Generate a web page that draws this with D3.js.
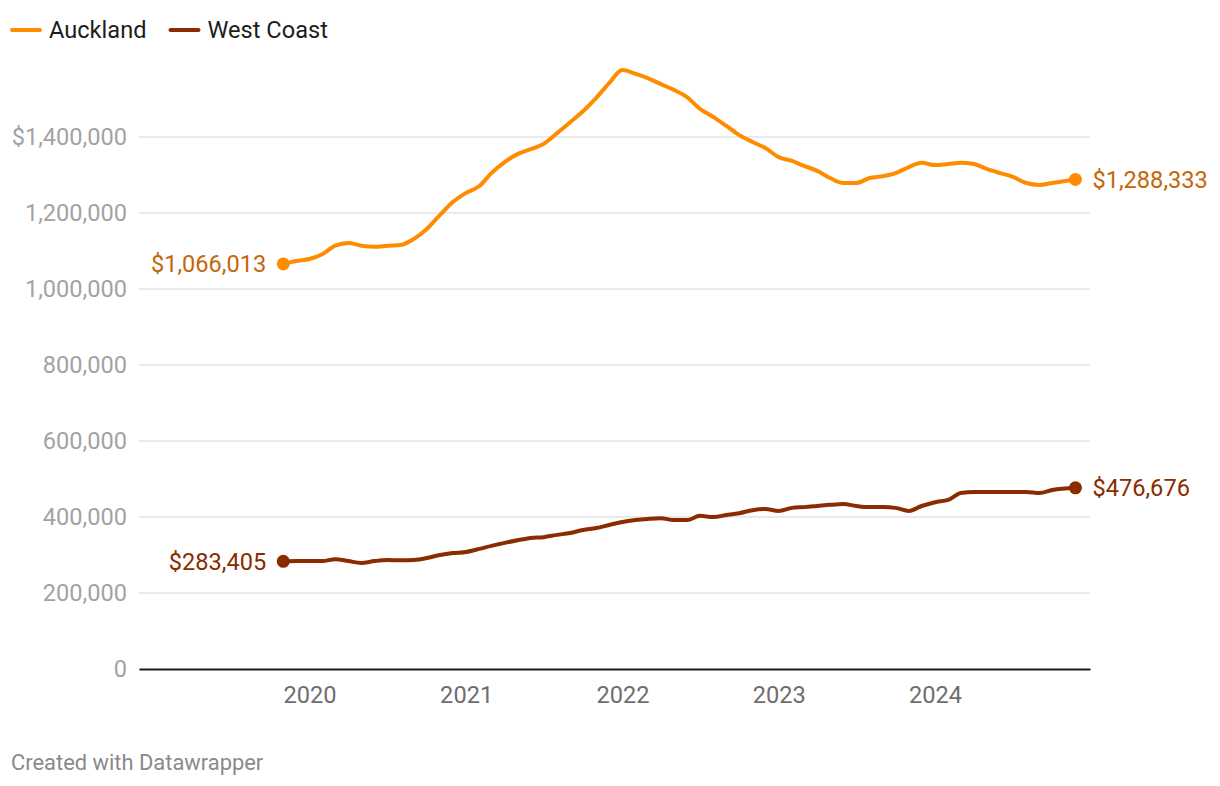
<!DOCTYPE html>
<html><head><meta charset="utf-8">
<script src="https://cdn.jsdelivr.net/npm/d3@7"></script>
<style>
html,body{margin:0;padding:0;background:#fff;}
svg text{font-family:Roboto,"Noto Sans",sans-serif;}
</style></head>
<body><svg id="c" width="1220" height="786"></svg>
<script>
const months = ["2019-11-01","2019-12-01","2020-01-01","2020-02-01","2020-03-01","2020-04-01","2020-05-01","2020-06-01","2020-07-01","2020-08-01","2020-09-01","2020-10-01","2020-11-01","2020-12-01","2021-01-01","2021-02-01","2021-03-01","2021-04-01","2021-05-01","2021-06-01","2021-07-01","2021-08-01","2021-09-01","2021-10-01","2021-11-01","2021-12-01","2022-01-01","2022-02-01","2022-03-01","2022-04-01","2022-05-01","2022-06-01","2022-07-01","2022-08-01","2022-09-01","2022-10-01","2022-11-01","2022-12-01","2023-01-01","2023-02-01","2023-03-01","2023-04-01","2023-05-01","2023-06-01","2023-07-01","2023-08-01","2023-09-01","2023-10-01","2023-11-01","2023-12-01","2024-01-01","2024-02-01","2024-03-01","2024-04-01","2024-05-01","2024-06-01","2024-07-01","2024-08-01","2024-09-01","2024-10-01","2024-11-24"];
const auckland = [1066013,1073700,1079000,1092000,1114000,1121000,1114000,1111000,1114000,1116000,1132000,1158000,1195000,1229000,1253000,1271000,1305000,1334000,1355000,1368000,1382000,1410000,1439000,1468000,1503000,1542000,1576000,1566000,1555000,1539000,1524000,1505000,1474000,1453000,1429000,1405000,1387000,1371000,1347000,1337000,1324000,1311000,1292000,1279000,1279000,1292000,1297000,1305000,1321000,1332000,1326000,1329000,1332000,1329000,1316000,1305000,1295000,1279000,1274000,1279000,1288333];
const westCoast = [283405,284200,284500,284000,289000,284000,279000,284000,286800,286000,287000,292000,300000,305000,308000,316000,324000,332000,339000,345000,347000,353000,358000,366000,371000,379000,387000,392000,395000,397000,392000,392000,403000,400000,405000,410000,418000,421000,416000,424000,426000,429000,432000,434000,429000,426000,426000,424000,416000,429000,439000,445000,463000,466000,466000,466000,466000,466000,463000,471000,476676];
const seriesNames = ["Auckland","West Coast"];
const yTicks = [0,200000,400000,600000,800000,1000000,1200000,1400000];
const xTickYears = ["2020","2021","2022","2023","2024"];

const lineColors = ["#ff8c00","#8a2b00"];
const labelColors = ["#c4660a","#8a2b00"];
const FS = 23.6;

const svg = d3.select("#c");
const parse = d3.timeParse("%Y-%m-%d");
const dates = months.map(parse);
const x = d3.scaleTime().domain([parse("2018-11-29"), parse("2024-12-28")]).range([139,1090]);
const y = d3.scaleLinear().domain([0,1400000]).range([669,137]);

// gridlines
svg.append("g").selectAll("line").data(yTicks.filter(d=>d>0)).join("line")
  .attr("x1",139).attr("x2",1090).attr("y1",d=>y(d)).attr("y2",d=>y(d))
  .attr("stroke","#e3e3e3").attr("stroke-width",1.5);

// y labels
const fmt = d3.format(",");
svg.append("g").selectAll("text").data(yTicks).join("text")
  .attr("x",127).attr("y",d=>y(d)).attr("dy","0.35em").attr("text-anchor","end")
  .attr("font-size",FS).attr("fill","#a3a3a3")
  .text((d,i)=> i===yTicks.length-1 ? "$"+fmt(d) : fmt(d));

// x axis
const xAxis = d3.axisBottom(x).tickValues(xTickYears.map(s=>parse(s+"-01-01"))).tickSize(0).tickFormat(d3.timeFormat("%Y"));
const gx = svg.append("g").attr("transform","translate(0,669)").call(xAxis);
gx.select(".domain").attr("stroke","#1a1a1a").attr("stroke-width",2);
gx.selectAll("text").attr("font-size",FS).attr("fill","#6e6e6e").attr("dy","0").attr("y",34).style("font-family","Roboto");

// lines
const all = [auckland, westCoast];
const line = d3.line().x((d,i)=>x(dates[i])).y(d=>y(d)).curve(d3.curveMonotoneX);
all.forEach((vals,k)=>{
  svg.append("path").attr("d",line(vals)).attr("fill","none")
    .attr("stroke",lineColors[k]).attr("stroke-width",4).attr("stroke-linejoin","round").attr("stroke-linecap","round");
  const n = vals.length-1;
  [0,n].forEach(j=>{
    svg.append("circle").attr("cx",x(dates[j])).attr("cy",y(vals[j])).attr("r",6.5).attr("fill",lineColors[k]);
  });
  svg.append("text").attr("x",x(dates[0])-17).attr("y",y(vals[0])).attr("dy","0.35em")
    .attr("text-anchor","end").attr("font-size",FS).attr("fill",labelColors[k]).text("$"+fmt(vals[0]));
  svg.append("text").attr("x",x(dates[n])+17).attr("y",y(vals[n])).attr("dy","0.35em")
    .attr("text-anchor","start").attr("font-size",FS).attr("fill",labelColors[k]).text("$"+fmt(vals[n]));
});

// legend
const leg = svg.append("g");
let lx = 11;
seriesNames.forEach((name,k)=>{
  leg.append("line").attr("x1",lx+1).attr("x2",lx+29).attr("y1",30).attr("y2",30)
    .attr("stroke",lineColors[k]).attr("stroke-width",4).attr("stroke-linecap","round");
  const t = leg.append("text").attr("x",lx+38).attr("y",30).attr("dy","0.35em")
    .attr("font-size",FS).attr("fill","#1d1d1d").text(name);
  lx = lx + 38 + t.node().getComputedTextLength() + 23;
});

// footer
svg.append("text").attr("x",11).attr("y",770).attr("font-size",21.9).attr("fill","#8a8a8a").text("Created with Datawrapper");
</script>
</body></html>
